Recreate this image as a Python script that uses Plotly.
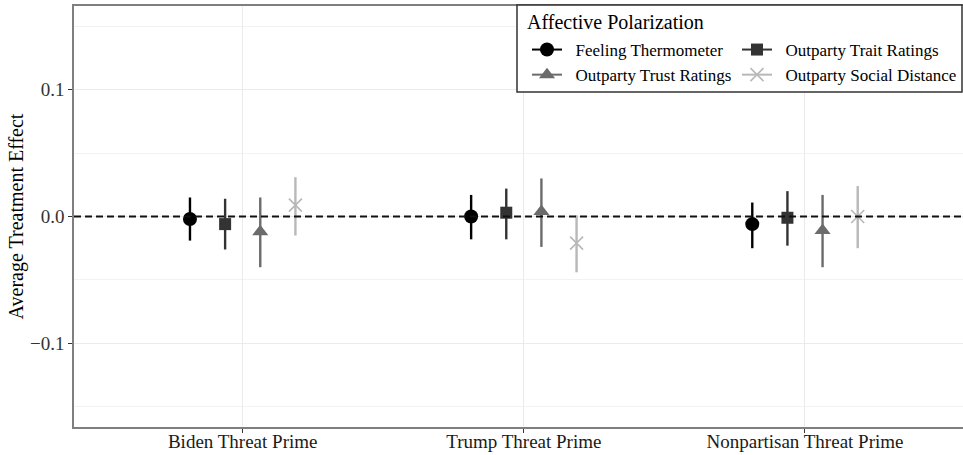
import plotly.graph_objects as go

categories = ["Biden Threat Prime", "Trump Threat Prime", "Nonpartisan Threat Prime"]
series_names = ["Feeling Thermometer", "Outparty Trait Ratings", "Outparty Trust Ratings", "Outparty Social Distance"]

ft_est = [-0.002, 0.000, -0.006]
ft_lo = [-0.019, -0.018, -0.025]
ft_hi = [0.015, 0.017, 0.011]

trait_est = [-0.006, 0.003, -0.001]
trait_lo = [-0.026, -0.018, -0.023]
trait_hi = [0.014, 0.022, 0.020]

trust_est = [-0.012, 0.004, -0.011]
trust_lo = [-0.040, -0.024, -0.040]
trust_hi = [0.015, 0.030, 0.017]

social_est = [0.009, -0.021, 0.000]
social_lo = [-0.015, -0.044, -0.025]
social_hi = [0.031, 0.001, 0.024]

y_ticks = [-0.1, 0.0, 0.1]

FONT = "Liberation Serif"

styles = [
    dict(symbol="circle", size=14, color="#000000"),
    dict(symbol="square", size=12, color="#333333"),
    dict(symbol="triangle-up", size=14, color="#6b6b6b"),
    dict(symbol="x-thin", size=13, color="#b8b8b8"),
]
data = [
    (ft_est, ft_lo, ft_hi),
    (trait_est, trait_lo, trait_hi),
    (trust_est, trust_lo, trust_hi),
    (social_est, social_lo, social_hi),
]


def make_marker(st):
    m = dict(symbol=st["symbol"], size=st["size"], color=st["color"])
    if st["symbol"] == "x-thin":
        m["line"] = dict(color=st["color"], width=1.6)
    else:
        m["line"] = dict(width=0)
    return m


fig = go.Figure()
for name, st, (est, lo, hi) in zip(series_names, styles, data):
    fig.add_trace(go.Scatter(
        x=categories, y=est, mode="markers", name=name,
        offsetgroup=name, showlegend=False,
        marker=make_marker(st),
        error_y=dict(type="data", symmetric=False,
                     array=[h - e for h, e in zip(hi, est)],
                     arrayminus=[e - l for e, l in zip(est, lo)],
                     width=0, thickness=2.4, color=st["color"]),
    ))

# legend-only traces (two columns)
legend_cols = ["legend", "legend2", "legend", "legend2"]
for i, (name, st) in enumerate(zip(series_names, styles)):
    fig.add_trace(go.Scatter(
        x=[None], y=[None], mode="lines+markers", name="\u00a0\u00a0" + name,
        line=dict(color=st["color"], width=2), marker=make_marker(st),
        legend=legend_cols[i], showlegend=True,
    ))

fig.add_hline(y=0, line=dict(color="#111111", width=1.9, dash="7px,4px"), layer="above")

W, H = 963, 455
ml, mr, mt, mb = 74, 0, 6, 28
pw, ph = W - ml - mr, H - mt - mb


def px_x(x):
    return (x - ml) / pw


def px_y(y):
    return (H - mb - y) / ph


fig.add_shape(type="rect", xref="paper", yref="paper",
              x0=px_x(517), x1=px_x(962), y0=px_y(92), y1=px_y(5),
              fillcolor="white", line=dict(color="#333333", width=1.5), layer="above")

fig.add_annotation(text="Affective Polarization", xref="paper", yref="paper",
                   x=px_x(525), y=px_y(22), xanchor="left", yanchor="middle",
                   showarrow=False, font=dict(family=FONT, size=20, color="#000000"))

leg_common = dict(bgcolor="rgba(0,0,0,0)", borderwidth=0,
                  font=dict(family=FONT, size=17, color="#000000"),
                  xanchor="left", yanchor="top", orientation="v", itemclick=False)
fig.update_layout(
    legend=dict(x=px_x(527), y=px_y(32), **leg_common),
    legend2=dict(x=px_x(737), y=px_y(32), **leg_common),
)

fig.update_layout(
    width=W, height=H,
    margin=dict(l=ml, r=mr, t=mt, b=mb),
    paper_bgcolor="white", plot_bgcolor="white",
    scattermode="group", scattergap=0.5,
    font=dict(family=FONT, size=18, color="#333333"),
    xaxis=dict(
        type="category", range=[-0.6, 2.562], automargin=False,
        showgrid=True, gridcolor="#ebebeb", gridwidth=1.2,
        showline=True, linecolor="#7f7f7f", linewidth=1.5, mirror=True,
        ticks="outside", ticklen=4, tickcolor="#333333", tickwidth=1,
        tickfont=dict(family=FONT, size=19, color="#1a1a1a"),
        ticklabelstandoff=-8,
        zeroline=False,
    ),
    yaxis=dict(
        range=[-0.166, 0.166], automargin=False,
        tickvals=y_ticks, tickformat=".1f",
        showgrid=True, gridcolor="#ebebeb", gridwidth=1.2,
        minor=dict(tick0=0.05, dtick=0.1, showgrid=True, gridcolor="#f2f2f2", gridwidth=0.8, ticks=""),
        showline=True, linecolor="#7f7f7f", linewidth=1.5, mirror=True,
        ticks="outside", ticklen=4, tickcolor="#333333", tickwidth=1,
        tickfont=dict(family=FONT, size=19, color="#333333"),
        zeroline=False,
        title=dict(text="Average Treatment Effect", font=dict(family=FONT, size=20, color="#000000"), standoff=1),
    ),
)

fig.write_html("out.html")
